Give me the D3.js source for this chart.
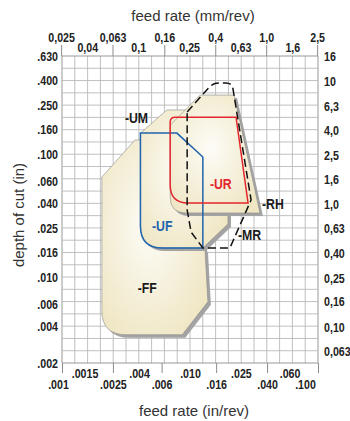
<!DOCTYPE html>
<html>
<head>
<meta charset="utf-8">
<script src="https://cdn.jsdelivr.net/npm/d3@7"></script>
<style>
  body { margin: 0; background: #fff; }
  text { font-family: "Liberation Sans", Arial, sans-serif; }
  .tick text { font-weight: bold; font-size: 13px; fill: #222; }
  .title { font-size: 15px; fill: #333; }
  .lbl { font-weight: bold; font-size: 15px; }
</style>
</head>
<body>
<div id="chart"></div>
<script>
// tick values and labels
var xTicksIn = [0.001, 0.0015, 0.0025, 0.004, 0.006, 0.010, 0.016, 0.025, 0.040, 0.060, 0.100];
var xLabelsIn = [".001", ".0015", ".0025", ".004", ".006", ".010", ".016", ".025", ".040", ".060", ".100"];
var xTicksMm = [0.025, 0.04, 0.063, 0.1, 0.16, 0.25, 0.4, 0.63, 1.0, 1.6, 2.5];
var xLabelsMm = ["0,025", "0,04", "0,063", "0,1", "0,16", "0,25", "0,4", "0,63", "1,0", "1,6", "2,5"];
var yTicksIn = [0.002, 0.004, 0.006, 0.010, 0.016, 0.025, 0.040, 0.060, 0.100, 0.160, 0.250, 0.400, 0.630];
var yLabelsIn = [".002", ".004", ".006", ".010", ".016", ".025", ".040", ".060", ".100", ".160", ".250", ".400", ".630"];
var yTicksMm = [0.063, 0.10, 0.16, 0.25, 0.40, 0.63, 1.0, 1.6, 2.5, 4.0, 6.3, 10, 16];
var yLabelsMm = ["0,063", "0,10", "0,16", "0,25", "0,40", "0,63", "1,0", "1,6", "2,5", "4,0", "6,3", "10", "16"];

// chipbreaker areas [feed in/rev, depth of cut in]
var areaFF = [[0.00205, 0.0654], [0.00372, 0.131], [0.0064, 0.131], [0.0131, 0.0166], [0.0138, 0.0063], [0.0087, 0.0034], [0.00205, 0.0034]];
var areaUM = [[0.0041, 0.149], [0.0066, 0.230], [0.0104, 0.230], [0.0198, 0.0333], [0.0198, 0.0271], [0.0126, 0.0173], [0.0041, 0.0173]];
var areaRH = [[0.0070, 0.173], [0.012, 0.304], [0.0221, 0.304], [0.0352, 0.0333], [0.0070, 0.0333]];
var lineUF = [[0.0041, 0.149], [0.0079, 0.149], [0.0126, 0.0952], [0.0126, 0.0173], [0.0041, 0.0173]];
var lineUR = [[0.0070, 0.201], [0.0229, 0.201], [0.0284, 0.0402], [0.0070, 0.0402]];
var lineMR = [[0.0095, 0.221], [0.0151, 0.381], [0.0213, 0.381], [0.030, 0.0425], [0.0205, 0.0173], [0.0126, 0.0173], [0.0102, 0.0233], [0.0095, 0.0352]];

var labelNames = ["-UM", "-UF", "-UR", "-RH", "-MR", "-FF"];
var labelFeed = [0.0031, 0.00505, 0.0143, 0.0365, 0.0237, 0.0039];
var labelDoc = [0.180, 0.0238, 0.0522, 0.0359, 0.0201, 0.00743];
var labelColors = ["#1a1a1a", "#1f64ad", "#e3262d", "#1a1a1a", "#1a1a1a", "#1a1a1a"];

var W = 350, H = 421;
var margin = { top: 56, left: 62, bottom: 58, right: 32 },
    width = W - margin.left - margin.right,
    height = H - margin.top - margin.bottom;
var squeeze = 0.82; // condensed look for the bold labels

var svg = d3.select('#chart').append('svg')
    .attr('width', W)
    .attr('height', H);

var x = d3.scaleLog().domain([0.001, 0.1]).range([margin.left, margin.left + width]);
var y = d3.scaleLog().domain([0.002, 0.002 * Math.pow(10, 2.5)]).range([margin.top + height, margin.top]);
var xMm = d3.scaleLog().domain([0.0254, 2.54]).range(x.range());
var yMm = d3.scaleLog().domain([0.0508, 0.0508 * Math.pow(10, 2.5)]).range(y.range());

var x0 = margin.left, x1 = margin.left + width, y0 = margin.top, y1 = margin.top + height;

// grid, one line every tenth of a decade
var grid = svg.append('g').attr('class', 'grid');
d3.range(0, 21).forEach(function (i) {
    var gx = x(0.001 * Math.pow(10, i / 10));
    grid.append('line').attr('x1', gx).attr('x2', gx).attr('y1', y0).attr('y2', y1)
        .attr('stroke', (i === 0 || i === 20) ? '#8c8c8c' : '#b9b9b9').attr('stroke-width', 0.9);
});
d3.range(0, 26).forEach(function (i) {
    var gy = y(0.002 * Math.pow(10, i / 10));
    grid.append('line').attr('x1', x0).attr('x2', x1).attr('y1', gy).attr('y2', gy)
        .attr('stroke', (i === 0 || i === 25) ? '#8c8c8c' : '#b9b9b9').attr('stroke-width', 0.9);
});

// gradient for the areas
var defs = svg.append('defs');
var grad = defs.append('radialGradient').attr('id', 'fillGrad')
    .attr('cx', '45%').attr('cy', '45%').attr('r', '65%');
grad.append('stop').attr('offset', '0%').attr('stop-color', '#fdfcf7');
grad.append('stop').attr('offset', '100%').attr('stop-color', '#efe6c3');

// path with optional rounded corners (radius in px per vertex)
function shapePath(pts, radii, closed) {
    var p = pts.map(function (d) { return [x(d[0]), y(d[1])]; });
    var n = p.length, s = '';
    for (var i = 0; i < n; i++) {
        var r = radii ? (radii[i] || 0) : 0;
        var c = p[i];
        if (r > 0 && (closed || (i > 0 && i < n - 1))) {
            var a = p[(i - 1 + n) % n], b = p[(i + 1) % n];
            var la = Math.hypot(a[0] - c[0], a[1] - c[1]), lb = Math.hypot(b[0] - c[0], b[1] - c[1]);
            var ra = Math.min(r, la / 2), rb = Math.min(r, lb / 2);
            var s1 = [c[0] + (a[0] - c[0]) * ra / la, c[1] + (a[1] - c[1]) * ra / la];
            var s2 = [c[0] + (b[0] - c[0]) * rb / lb, c[1] + (b[1] - c[1]) * rb / lb];
            s += (i === 0 ? 'M' : 'L') + s1[0] + ',' + s1[1] + 'Q' + c[0] + ',' + c[1] + ' ' + s2[0] + ',' + s2[1];
        } else {
            s += (i === 0 ? 'M' : 'L') + c[0] + ',' + c[1];
        }
    }
    return s + (closed ? 'Z' : '');
}

var areas = [
    { pts: areaFF, radii: [0, 0, 0, 0, 0, 0, 24] },
    { pts: areaUM, radii: [0, 0, 0, 0, 0, 0, 22] },
    { pts: areaRH, radii: [0, 0, 0, 0, 16] }
];
var areaG = svg.append('g').attr('class', 'areas');
areas.forEach(function (a) {
    var d = shapePath(a.pts, a.radii, true);
    areaG.append('path').attr('d', d)
        .attr('transform', 'translate(3,3)')
        .attr('fill', '#a3a3a3');
    areaG.append('path').attr('d', d)
        .attr('fill', 'url(#fillGrad)')
        .attr('stroke', '#8a8a8a')
        .attr('stroke-width', 0.6);
});

// outlines
svg.append('path').attr('d', shapePath(lineUF, [0, 0, 0, 0, 22], true))
    .attr('fill', 'none').attr('stroke', '#1f64ad').attr('stroke-width', 1.5);
svg.append('path').attr('d', shapePath(lineUR, [5, 0, 0, 18], true))
    .attr('fill', 'none').attr('stroke', '#e3262d').attr('stroke-width', 1.5);
svg.append('path').attr('d', shapePath(lineMR, [0, 6, 6, 0, 0, 0, 0, 0], true))
    .attr('fill', 'none').attr('stroke', '#111').attr('stroke-width', 1.5)
    .attr('stroke-dasharray', '8,4');

// labels
svg.selectAll('.lbl')
    .data(labelNames)
    .enter().append('text')
    .attr('class', 'lbl')
    .attr('transform', function (d, i) {
        return 'translate(' + x(labelFeed[i]) + ',' + y(labelDoc[i]) + ') scale(' + squeeze + ',1)';
    })
    .attr('fill', function (d, i) { return labelColors[i]; })
    .text(function (d) { return d; });

// bottom axis (in/rev)
var xAxis = d3.axisBottom(x).tickValues(xTicksIn)
    .tickFormat(function (d, i) { return xLabelsIn[i]; });
var gB = svg.append('g').attr('transform', 'translate(0,' + y1 + ')').call(xAxis);
gB.select('.domain').remove();
gB.selectAll('.tick line').attr('stroke', '#8c8c8c')
    .attr('y2', function (d, i) { return i % 2 === 0 ? 10 : 0; });
gB.selectAll('.tick text')
    .attr('y', function (d, i) { return i % 2 === 0 ? 26.5 : 15; })
    .attr('dy', 0)
    .attr('x', function (d, i) { return i === 0 ? -4 : (i === 10 ? -13 : 0); });

// top axis (mm/rev)
var xAxisTop = d3.axisTop(xMm).tickValues(xTicksMm)
    .tickFormat(function (d, i) { return xLabelsMm[i]; });
var gT = svg.append('g').attr('transform', 'translate(0,' + y0 + ')').call(xAxisTop);
gT.select('.domain').remove();
gT.selectAll('.tick line').attr('stroke', '#8c8c8c')
    .attr('y2', function (d, i) { return i % 2 === 0 ? -11 : 0; });
gT.selectAll('.tick text')
    .attr('y', function (d, i) { return i % 2 === 0 ? -14 : -4; })
    .attr('dy', 0);

// left axis (in)
var yAxis = d3.axisLeft(y).tickValues(yTicksIn).tickSize(0).tickPadding(4)
    .tickFormat(function (d, i) { return yLabelsIn[i]; });
var gL = svg.append('g').attr('transform', 'translate(' + x0 + ',0)').call(yAxis);
gL.select('.domain').remove();

// right axis (mm)
var yAxisR = d3.axisRight(yMm).tickValues(yTicksMm).tickSize(0).tickPadding(6)
    .tickFormat(function (d, i) { return yLabelsMm[i]; });
var gR = svg.append('g').attr('transform', 'translate(' + x1 + ',0)').call(yAxisR);
gR.select('.domain').remove();

svg.selectAll('.tick text')
    .attr('font-family', null).attr('font-size', null)
    .attr('transform', 'scale(' + squeeze + ',1)')
    .attr('x', function () { return +d3.select(this).attr('x') / squeeze; });

// titles
svg.append('text').attr('class', 'title')
    .attr('x', 193).attr('y', 21).attr('text-anchor', 'middle')
    .text('feed rate (mm/rev)');
svg.append('text').attr('class', 'title')
    .attr('x', 194).attr('y', 416).attr('text-anchor', 'middle')
    .text('feed rate (in/rev)');
svg.append('text').attr('class', 'title')
    .attr('transform', 'translate(24,215) rotate(-90)')
    .attr('text-anchor', 'middle')
    .text('depth of cut (in)');
</script>
</body>
</html>
